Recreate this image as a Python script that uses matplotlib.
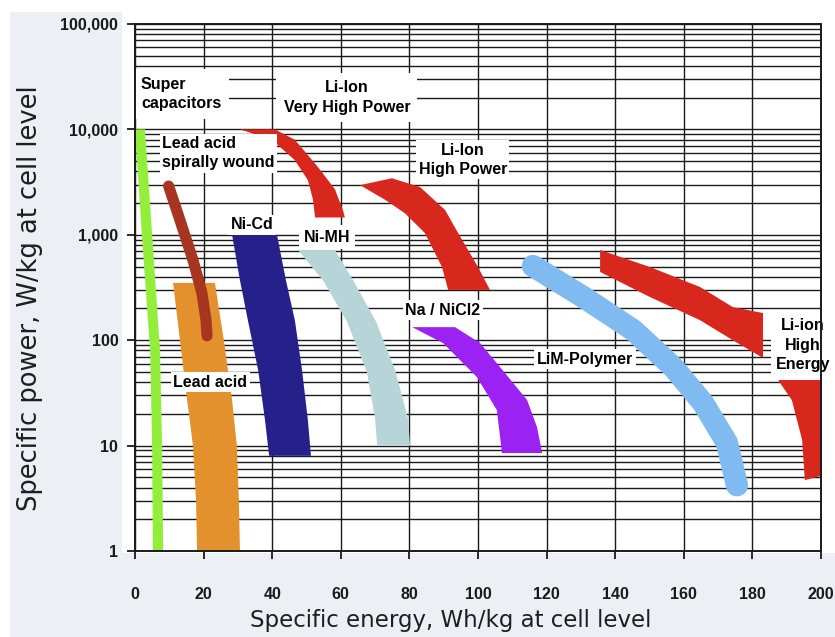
import numpy as np
import matplotlib
matplotlib.use("Agg")
import matplotlib.pyplot as plt
from matplotlib.patches import Rectangle
from matplotlib.ticker import LogLocator, NullFormatter

OUT_FILE = "out.png"

X_TICKS = [0, 20, 40, 60, 80, 100, 120, 140, 160, 180, 200]
Y_TICKS = [1, 10, 100, 1000, 10000, 100000]
Y_TICK_LABELS = ["1", "10", "100", "1,000", "10,000", "100,000"]

# band outlines (Wh/kg, W/kg)
SUPERCAP_Y = [10000, 1000, 80, 10, 1]
SUPERCAP_LEFT = [0.0, 2.0, 4.4, 5.0, 5.2]
SUPERCAP_RIGHT = [2.9, 5.0, 7.3, 7.9, 8.2]

LEAD_ACID_Y = [350, 100, 27, 10, 3, 1]
LEAD_ACID_LEFT = [11.1, 13.1, 15.2, 16.9, 17.8, 18.1]
LEAD_ACID_RIGHT = [23.3, 25.9, 28.3, 29.7, 30.3, 30.6]

SPIRAL_X = [9.8, 13.1, 16.9, 19.5, 20.7, 21.0]
SPIRAL_Y = [2900, 1380, 576, 281, 155, 110]

NICD_Y = [1000, 370, 155, 52, 17.5, 8]
NICD_LEFT = [28.3, 30.6, 32.9, 35.9, 37.9, 39.1]
NICD_RIGHT = [41.4, 44.0, 46.6, 48.7, 50.4, 51.3]

NIMH_Y = [720, 370, 150, 50, 18, 10]
NIMH_LEFT = [47.5, 54.8, 61.8, 67.6, 70.0, 70.6]
NIMH_RIGHT = [58.3, 63.6, 70.3, 76.0, 79.6, 80.2]

VHP_INNER_X = [30.6, 39.9, 46.6, 50.4, 51.9, 52.5]
VHP_INNER_Y = [10000, 7980, 5100, 3300, 2150, 1460]
VHP_OUTER_X = [40.8, 46.6, 53.4, 58.3, 60.6, 61.2]
VHP_OUTER_Y = [10000, 7980, 4370, 2700, 1720, 1460]

HP_INNER_X = [65.6, 72.9, 78.7, 84.5, 89.5, 91.3]
HP_INNER_Y = [2960, 2150, 1600, 1040, 495, 300]
HP_OUTER_X = [74.9, 83.1, 90.4, 94.2, 100.0, 103.5]
HP_OUTER_Y = [3440, 2840, 1720, 1040, 495, 300]

NA_INNER_X = [80.8, 89.8, 99.7, 105.5, 107.0]
NA_INNER_Y = [133, 94, 44.6, 21.7, 8.5]
NA_OUTER_X = [93.3, 100.6, 106.4, 114.3, 117.2, 118.7]
NA_OUTER_Y = [133, 94, 55.7, 27.1, 15, 8.5]

LIM_X = [116.0, 130.6, 145.2, 156.9, 165.6, 172.6, 175.5]
LIM_Y = [506, 258, 125, 55.6, 25.4, 10.6, 4.2]

HE_X = [135.6, 150.1, 164.7, 174.3, 183.1]
HE_TOP = [718, 495, 320, 206, 181]
HE_BOTTOM = [444, 257, 155, 100, 67.8]
HE_LOW_X = [187.5, 204.0, 204.0, 195.3, 194.5, 191.5]
HE_LOW_Y = [41.9, 41.9, 5.6, 4.7, 11.3, 27]

GREEN = "#93ee3c"
ORANGE = "#e3912c"
BROWN = "#a83520"
NAVY = "#26208a"
GREY_BLUE = "#b7d5d9"
RED = "#d8281e"
PURPLE = "#9b22f2"
LIGHT_BLUE = "#7fbbf0"

LABEL_FONT = ["Liberation Sans", "DejaVu Sans"]


def band(ax, left_x, left_y, right_x, right_y, color):
    xs = np.concatenate([left_x, right_x[::-1]])
    ys = np.concatenate([left_y, right_y[::-1]])
    ax.fill(xs, ys, color=color, lw=0, zorder=2)


def label(ax, x, y, text, ha="center", pad=0.15):
    ax.text(x, y, text, ha=ha, va="center", fontsize=11.5, fontweight="bold",
            family=LABEL_FONT, linespacing=1.35, zorder=2.45,
            bbox=dict(boxstyle="square,pad=%s" % pad, fc="white", ec="none"))


fig = plt.figure(figsize=(8.35, 6.37), dpi=100, facecolor="#eceff3")
W, H = 835.0, 637.0
for x0, y0, w, h in [(122, 0, 713, 553), (0, 0, 835, 12), (0, 0, 10, 637)]:
    fig.patches.append(Rectangle((x0 / W, 1 - (y0 + h) / H), w / W, h / H,
                                 transform=fig.transFigure, fc="white", ec="none", zorder=-10))

ax = fig.add_axes([135 / W, 1 - 551 / H, 686 / W, 527 / H])
ax.set_facecolor("white")
ax.set_yscale("log")
ax.set_xlim(0, 200)
ax.set_ylim(1, 100000)

ax.set_xticks(X_TICKS)
ax.set_xticklabels([str(v) for v in X_TICKS], fontsize=11.5, fontweight="bold", family=LABEL_FONT)
ax.set_yticks(Y_TICKS)
ax.set_yticklabels(Y_TICK_LABELS, fontsize=11.5, fontweight="bold", family=LABEL_FONT)
ax.yaxis.set_minor_locator(LogLocator(base=10, subs=np.arange(2, 10)))
ax.yaxis.set_minor_formatter(NullFormatter())
ax.tick_params(axis="x", direction="out", length=6, width=1.3, pad=20, colors="#1a1a1a")
ax.tick_params(axis="y", direction="out", length=6, width=1.3, pad=6, colors="#1a1a1a")
ax.tick_params(axis="y", which="minor", length=0)

ax.grid(True, axis="y", which="both", color="#1a1a1a", lw=1.0)
ax.grid(True, axis="x", which="major", color="#1a1a1a", lw=1.0)
for s in ax.spines.values():
    s.set_color("#1a1a1a")
    s.set_linewidth(1.4)

band(ax, SUPERCAP_LEFT, SUPERCAP_Y, SUPERCAP_RIGHT, SUPERCAP_Y, GREEN)
band(ax, LEAD_ACID_LEFT, LEAD_ACID_Y, LEAD_ACID_RIGHT, LEAD_ACID_Y, ORANGE)
ax.plot(SPIRAL_X, SPIRAL_Y, color=BROWN, lw=8, solid_capstyle="round", solid_joinstyle="round", zorder=2.1)
band(ax, NICD_LEFT, NICD_Y, NICD_RIGHT, NICD_Y, NAVY)
band(ax, NIMH_LEFT, NIMH_Y, NIMH_RIGHT, NIMH_Y, GREY_BLUE)
band(ax, VHP_INNER_X, VHP_INNER_Y, VHP_OUTER_X, VHP_OUTER_Y, RED)
band(ax, HP_INNER_X, HP_INNER_Y, HP_OUTER_X, HP_OUTER_Y, RED)
band(ax, NA_INNER_X, NA_INNER_Y, NA_OUTER_X, NA_OUTER_Y, PURPLE)
ax.plot(LIM_X, LIM_Y, color=LIGHT_BLUE, lw=16, solid_capstyle="round", solid_joinstyle="round", zorder=2)
band(ax, HE_X, HE_TOP, HE_X, HE_BOTTOM, RED)
ax.fill(HE_LOW_X, HE_LOW_Y, color=RED, lw=0, zorder=2)

label(ax, 1.75, 21700, "Super\ncapacitors", ha="left", pad=0.5)
label(ax, 61.8, 20100, "Li-Ion\nVery High Power", pad=0.45)
label(ax, 7.9, 5970, "Lead acid\nspirally wound", ha="left")
label(ax, 34.1, 1240, "Ni-Cd")
label(ax, 56.0, 953, "Ni-MH", pad=0.3)
label(ax, 95.6, 5130, "Li-Ion\nHigh Power")
label(ax, 89.8, 193, "Na / NiCl2")
label(ax, 131.2, 66.3, "LiM-Polymer")
label(ax, 194.8, 90, "Li-ion\nHigh\nEnergy", pad=0.3)
label(ax, 21.9, 40.1, "Lead acid")

fig.text(451 / W, 1 - 620 / H, "Specific energy, Wh/kg at cell level", ha="center", va="center",
         fontsize=16.5, color="#1e1e1e", family="DejaVu Sans")
fig.text(30 / W, 1 - 298 / H, "Specific power, W/kg at cell level", ha="center", va="center",
         rotation=90, fontsize=18.5, color="#1e1e1e", family="DejaVu Sans")

fig.savefig(OUT_FILE, dpi=100, facecolor=fig.get_facecolor())
